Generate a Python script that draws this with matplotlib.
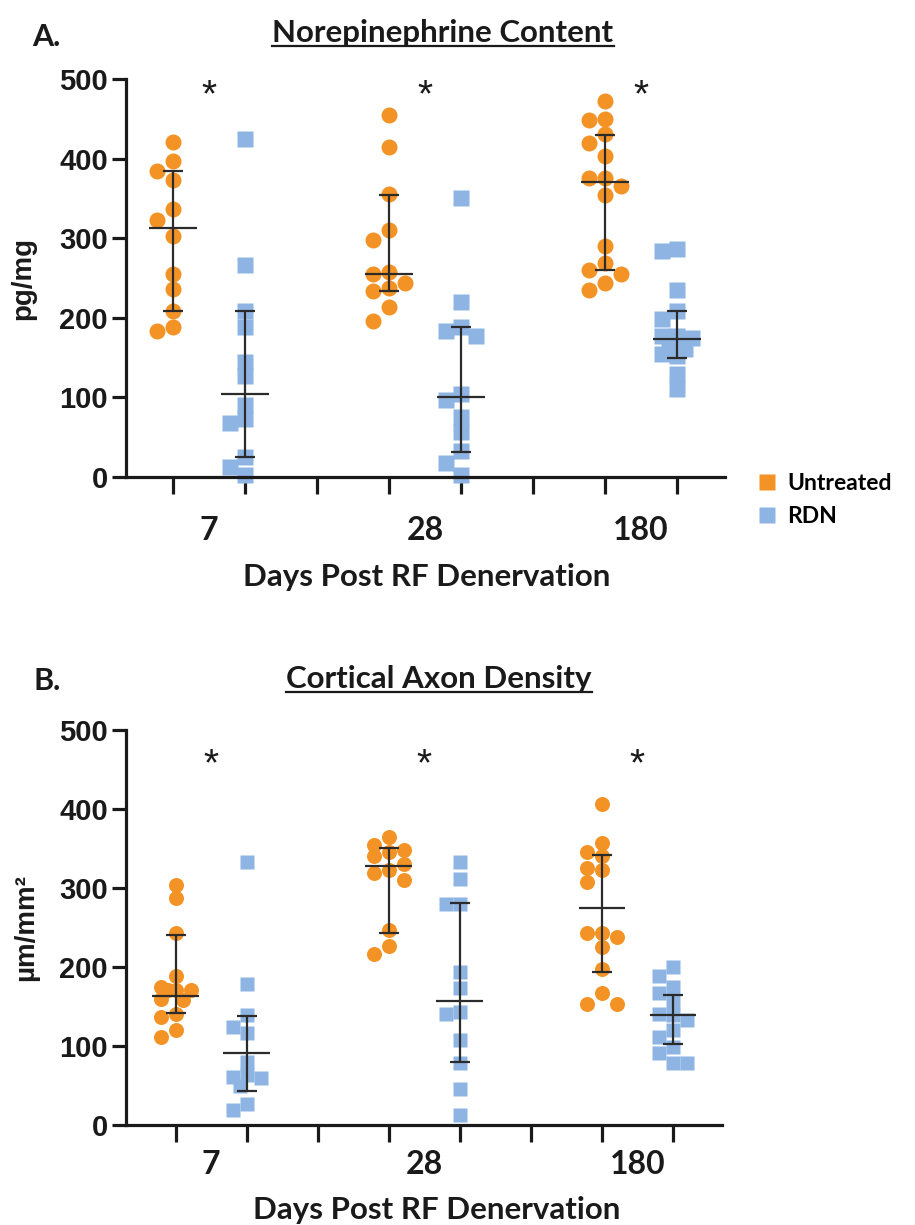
import numpy as np
import matplotlib
matplotlib.use('Agg')
import matplotlib.pyplot as plt
from matplotlib.lines import Line2D

plt.rcParams['font.family'] = 'Liberation Sans'
plt.rcParams['font.weight'] = 'bold'

# values
groups = ['7', '28', '180']

# A. norepinephrine content (pg/mg)
ne_untreated = [
    [421, 384, 397, 373, 337, 323, 303, 255, 236, 209, 183, 189],
    [455, 414, 355, 310, 298, 258, 255, 238, 244, 234, 213, 196],
    [472, 450, 448, 431, 419, 403, 376, 376, 366, 354, 290, 269, 260, 255, 244, 235],
]
ne_rdn = [
    [424, 266, 209, 188, 144, 127, 90, 73, 68, 25, 13, 2],
    [351, 220, 188, 177, 183, 104, 97, 75, 56, 33, 18, 2],
    [287, 284, 235, 209, 198, 175, 177, 177, 165, 161, 154, 152, 129, 111],
]
# median, 25th, 75th percentile as drawn
ne_untreated_med = [313, 255, 371]
ne_untreated_q1 = [209, 234, 260]
ne_untreated_q3 = [385, 354, 430]
ne_rdn_med = [104, 100, 173]
ne_rdn_q1 = [25, 32, 149]
ne_rdn_q3 = [209, 188, 209]

# B. cortical axon density (um/mm2)
ad_untreated = [
    [304, 287, 243, 188, 171, 175, 171, 171, 160, 158, 141, 137, 120, 112],
    [364, 354, 348, 346, 340, 331, 323, 319, 310, 247, 226, 217],
    [406, 357, 346, 340, 323, 325, 308, 243, 243, 238, 225, 198, 167, 153, 153],
]
ad_rdn = [
    [333, 179, 139, 124, 116, 80, 63, 61, 59, 49, 27, 19],
    [333, 312, 280, 280, 194, 173, 141, 143, 108, 78, 46, 13],
    [200, 188, 175, 167, 156, 141, 139, 133, 120, 112, 99, 91, 78, 78],
]
ad_untreated_med = [163, 328, 275]
ad_untreated_q1 = [142, 243, 194]
ad_untreated_q3 = [240, 351, 342]
ad_rdn_med = [91, 157, 139]
ad_rdn_q1 = [43, 80, 102]
ad_rdn_q3 = [138, 281, 165]

orange = '#F39325'
blue = '#8DB4E2'
dark = '#2b2b2b'
ink = '#1a1a1a'
txt_font = 'Lato'

fig = plt.figure(figsize=(9.15, 12.25), dpi=100)
W, H = 915, 1225


def swarm(ax, x0, vals, diam_px):
    # compact beeswarm in display pixels, points may overlap a little
    placed = []
    offs = np.zeros(len(vals))
    ppx = ax.transData.transform((1, 0))[0] - ax.transData.transform((0, 0))[0]
    cands = [0, -1, 1, -0.5, 0.5]
    for i in np.argsort(vals)[::-1]:
        y = ax.transData.transform((x0, vals[i]))[1]
        best, best_d = 0, -1
        for k in cands:
            xo = k * diam_px
            d = min([np.hypot(xo - px, y - py) for px, py in placed] or [1e9])
            if d >= diam_px * 0.85:
                best = xo
                break
            if d > best_d:
                best, best_d = xo, d
        placed.append((best, y))
        offs[i] = best / ppx
    return x0 + offs


def panel(rect, xlim, unt, rdn, um, uq1, uq3, rm, rq1, rq3, diam, label_pad, star_y):
    ax = fig.add_axes(rect)
    ax.set_xlim(*xlim)
    ax.set_ylim(0, 500)
    for s in ['top', 'right']:
        ax.spines[s].set_visible(False)
    for s in ['left', 'bottom']:
        ax.spines[s].set_linewidth(2.3)
        ax.spines[s].set_color(ink)
    ms = diam / 1.389
    for g in range(3):
        xu, xr = g * 3, g * 3 + 1
        ax.plot(swarm(ax, xu, unt[g], diam), unt[g], 'o', color=orange, ms=ms,
                mec='none', zorder=2, clip_on=False)
        ax.plot(swarm(ax, xr, rdn[g], diam * 0.95), rdn[g], 's', color=blue, ms=ms * 0.95,
                mec='none', zorder=2, clip_on=False)
        for x, m, a, b in [(xu, um[g], uq1[g], uq3[g]), (xr, rm[g], rq1[g], rq3[g])]:
            ax.errorbar([x], [m], yerr=[[m - a], [b - m]], fmt='none', ecolor=dark,
                        elinewidth=1.6, capsize=7, capthick=1.6, zorder=3)
            ax.hlines(m, x - 0.33, x + 0.33, color=dark, lw=1.6, zorder=3)
        ax.text(g * 3 + 0.5, star_y, '*', ha='center', va='center', fontsize=28,
                fontweight='normal', color=ink)
    ax.set_yticks([0, 100, 200, 300, 400, 500])
    ax.tick_params(axis='y', length=10, width=2.3, labelsize=21, pad=3, colors=ink)
    ax.set_xticks(range(8))
    ax.set_xticklabels([])
    ax.tick_params(axis='x', which='major', length=12, width=2.3, colors=ink)
    ax.set_xticks([0.5, 3.5, 6.5], minor=True)
    ax.set_xticklabels(groups, minor=True, fontsize=23, fontfamily=txt_font,
                       fontweight='bold', color=ink)
    ax.tick_params(axis='x', which='minor', length=0, pad=label_pad)
    return ax


axA = panel([126 / W, 1 - 477 / H, 599 / W, 398 / H], (-0.653, 7.667),
            ne_untreated, ne_rdn, ne_untreated_med, ne_untreated_q1, ne_untreated_q3,
            ne_rdn_med, ne_rdn_q1, ne_rdn_q3, 16, 28, 478)
axA.set_ylabel('pg/mg', fontsize=20, fontweight='bold', color=ink)
axA.yaxis.set_label_coords(-0.15, 0.5)

axB = panel([126 / W, 1 - 1125 / H, 596 / W, 395 / H], (-0.70, 7.69),
            ad_untreated, ad_rdn, ad_untreated_med, ad_untreated_q1, ad_untreated_q3,
            ad_rdn_med, ad_rdn_q1, ad_rdn_q3, 15, 18, 455)
axB.set_ylabel('µm/mm²', fontsize=20, fontweight='bold', color=ink)
axB.yaxis.set_label_coords(-0.145, 0.5)

# x labels, panel letters, titles
fig.text(427 / W, 1 - 577 / H, 'Days Post RF Denervation', ha='center', va='center',
         fontsize=22.5, fontfamily=txt_font, fontweight='bold', color=ink)
fig.text(437 / W, 1 - 1210 / H, 'Days Post RF Denervation', ha='center', va='center',
         fontsize=22.5, fontfamily=txt_font, fontweight='bold', color=ink)
fig.text(32 / W, 1 - 37 / H, 'A.', ha='left', va='center', fontsize=22,
         fontfamily=txt_font, fontweight='bold', color=ink)
fig.text(33 / W, 1 - 681 / H, 'B.', ha='left', va='center', fontsize=22,
         fontfamily=txt_font, fontweight='bold', color=ink)
titles = [
    fig.text(443 / W, 1 - 33 / H, 'Norepinephrine Content', ha='center', va='center',
             fontsize=22.5, fontfamily=txt_font, fontweight='bold', color=ink),
    fig.text(439 / W, 1 - 679 / H, 'Cortical Axon Density', ha='center', va='center',
             fontsize=22.5, fontfamily=txt_font, fontweight='bold', color=ink),
]

# legend
handles = [Line2D([], [], marker='s', ls='none', color=orange, ms=11, mec='none'),
           Line2D([], [], marker='s', ls='none', color=blue, ms=11, mec='none')]
fig.legend(handles, ['Untreated', 'RDN'], loc='center left',
           bbox_to_anchor=(752 / W, 1 - 500 / H), frameon=False, handlelength=0.7,
           handletextpad=0.55, labelspacing=0.5, borderaxespad=0, borderpad=0.3,
           prop={'family': txt_font, 'weight': 'bold', 'size': 16.5})

# underline titles
fig.canvas.draw()
r = fig.canvas.get_renderer()
for t in titles:
    bb = t.get_window_extent(r)
    y = bb.y0 + 1
    fig.add_artist(Line2D([bb.x0 / W, bb.x1 / W], [y / H, y / H], color=ink, lw=1.6))

fig.savefig('out.png', dpi=100)
